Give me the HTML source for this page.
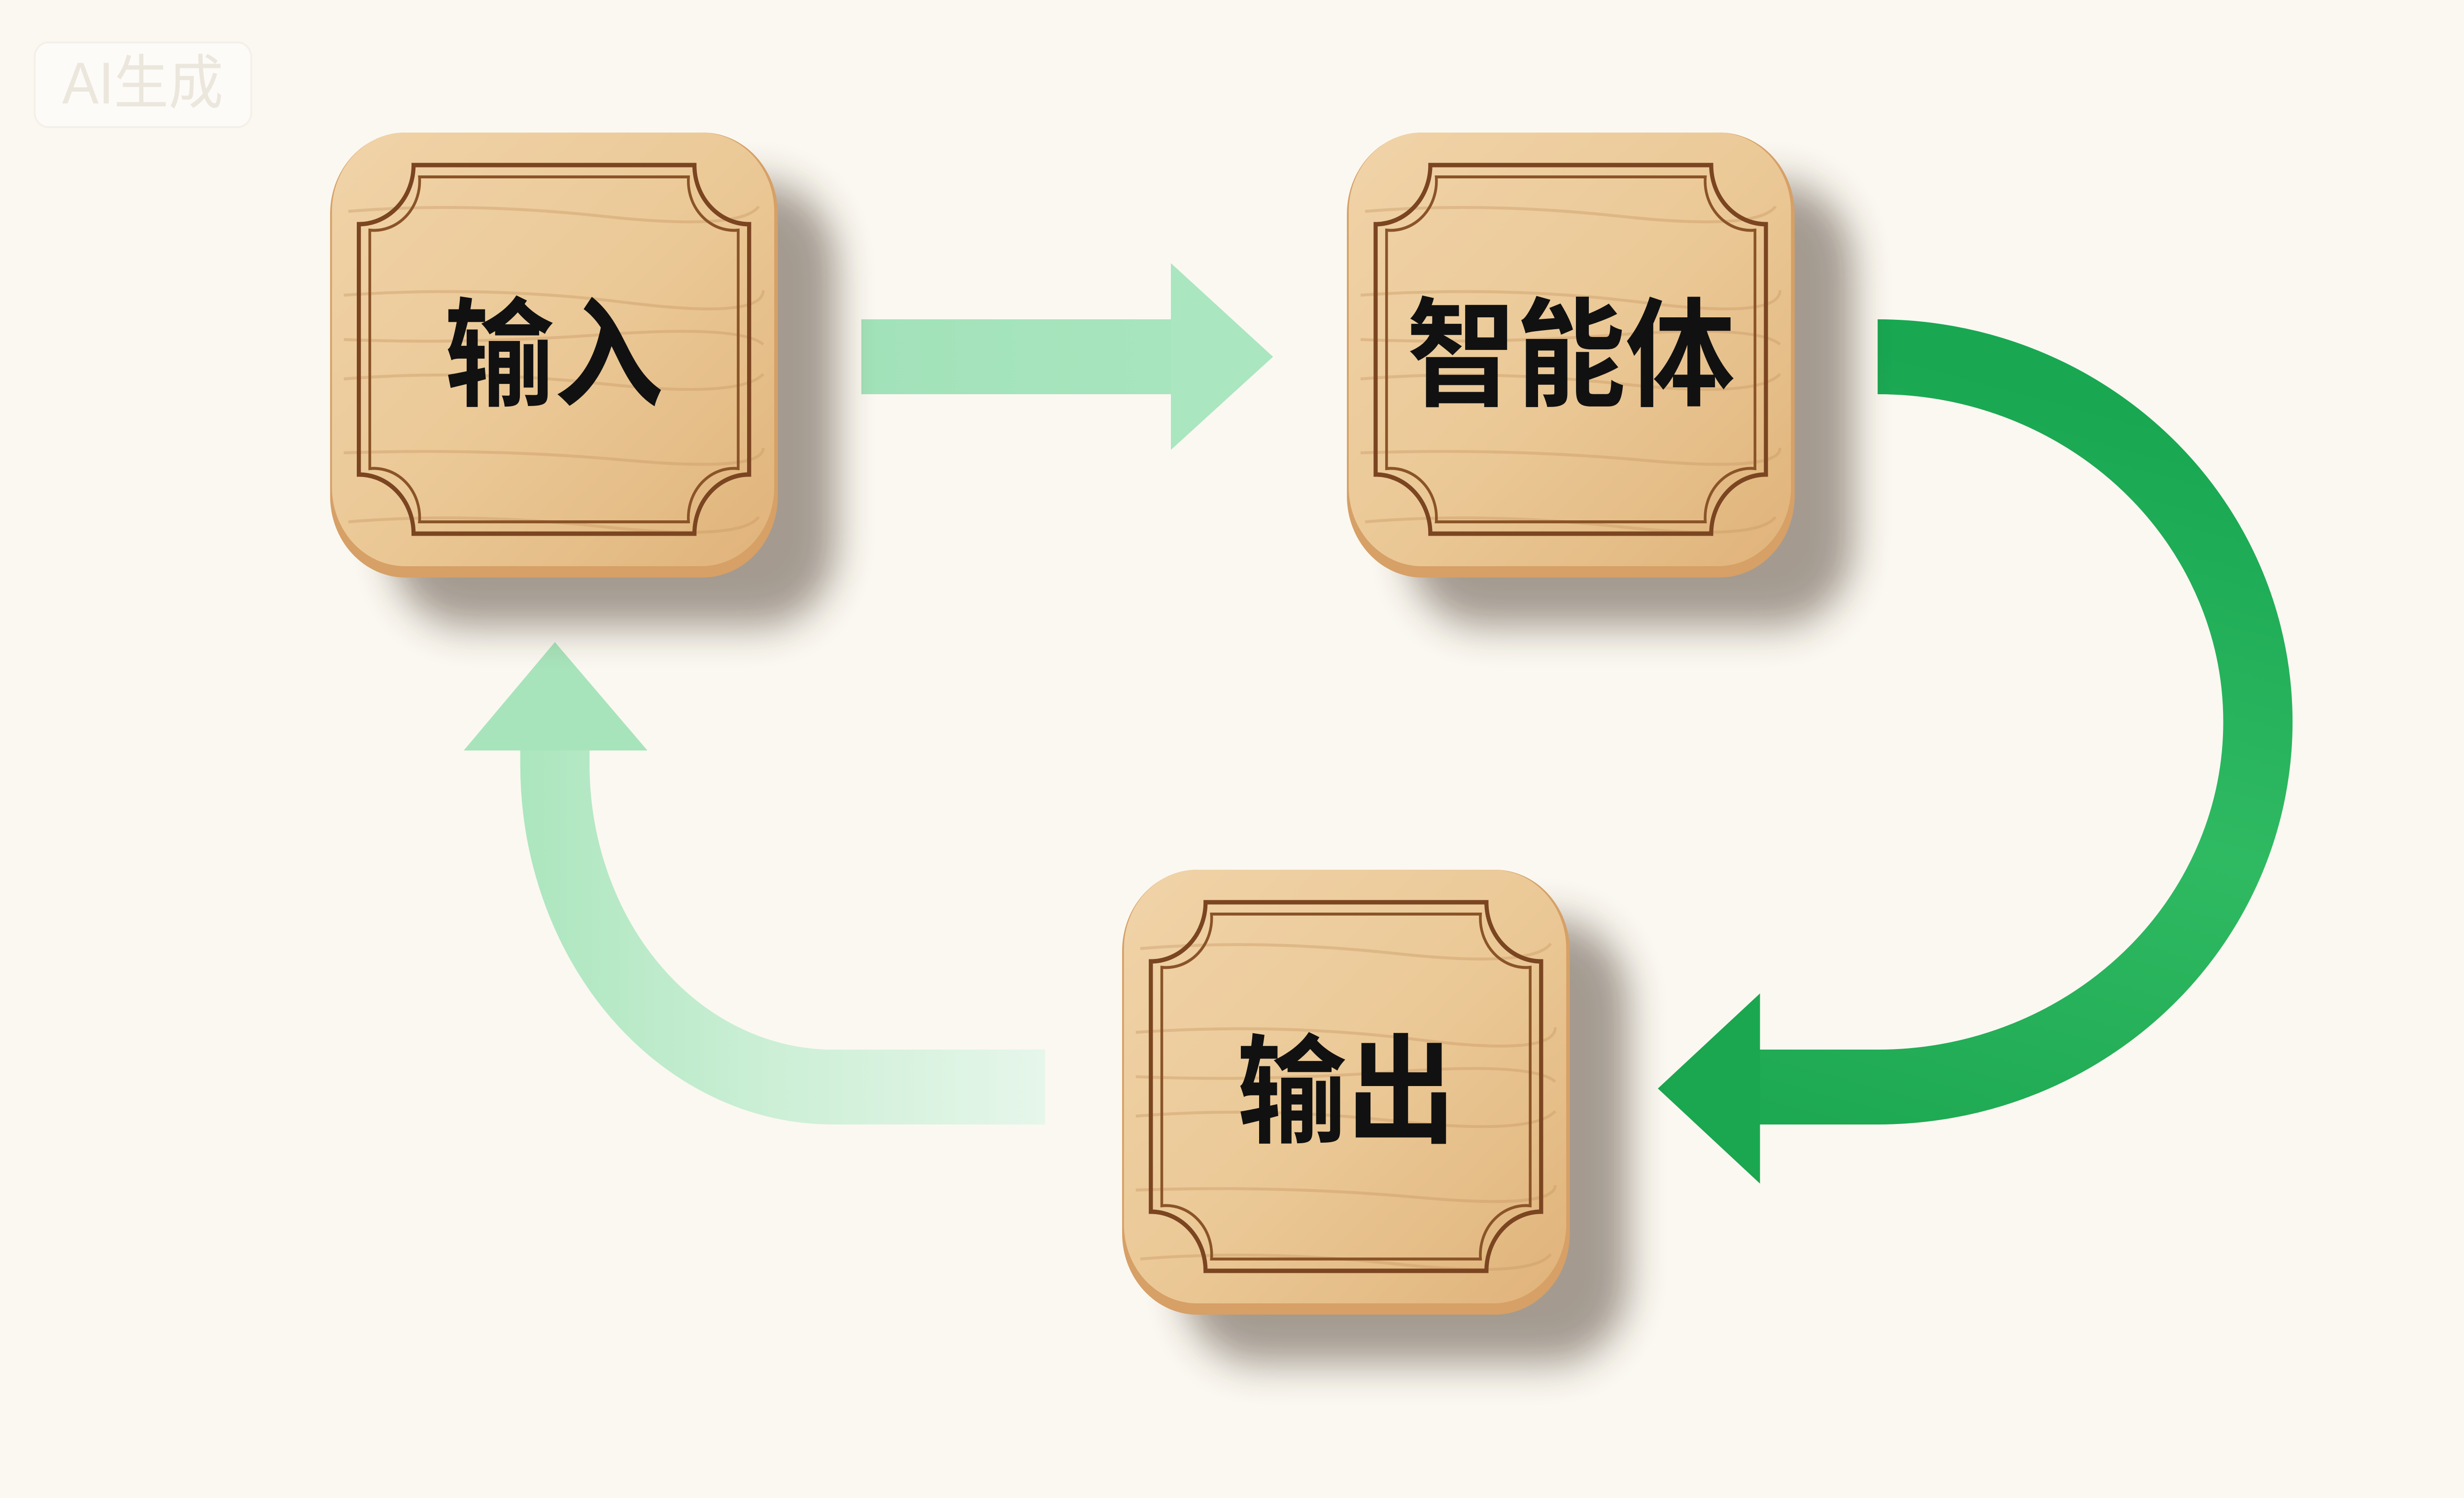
<!DOCTYPE html>
<html><head><meta charset="utf-8"><style>
html,body{margin:0;padding:0;background:#fbf8f1;overflow:hidden;width:100%;height:100%;}
svg{display:block;position:fixed;left:0;top:0;width:100vw;height:100vh;}
</style></head><body>
<svg viewBox="0 0 5404 3040" preserveAspectRatio="none" xmlns="http://www.w3.org/2000/svg">
<defs>
<linearGradient id="wood" x1="0" y1="0" x2="1" y2="1">
<stop offset="0" stop-color="#f0d3a8"/><stop offset="0.5" stop-color="#ebc997"/><stop offset="1" stop-color="#e0b37a"/>
</linearGradient>
<linearGradient id="g1" x1="1889" y1="0" x2="2792" y2="0" gradientUnits="userSpaceOnUse">
<stop offset="0" stop-color="#a2e2b9"/><stop offset="1" stop-color="#a9e6c0"/>
</linearGradient>
<linearGradient id="g2" x1="4100" y1="700" x2="3700" y2="2300" gradientUnits="userSpaceOnUse">
<stop offset="0" stop-color="#19a752"/><stop offset="0.5" stop-color="#2fba62"/><stop offset="1" stop-color="#1ba650"/>
</linearGradient>
<linearGradient id="g3" x1="2292" y1="0" x2="1100" y2="0" gradientUnits="userSpaceOnUse">
<stop offset="0" stop-color="#e6f6ea"/><stop offset="0.5" stop-color="#ccefd6"/><stop offset="1" stop-color="#a9e5bc"/>
</linearGradient>
<filter id="sh" x="-30%" y="-30%" width="170%" height="170%"><feGaussianBlur stdDeviation="40"/></filter>
<g id="box">
<rect x="130" y="100" width="982" height="903" rx="170" fill="#3a2a1a" opacity="0.45" filter="url(#sh)"/>
<rect x="0" y="0" width="982" height="903" rx="165" fill="#d6a066"/>
<rect x="4" y="0" width="970" height="880" rx="160" fill="url(#wood)"/>
<g stroke="#c99864" stroke-width="6" opacity="0.4" fill="none">
<path d="M40 160 Q300 140 600 170 T940 150"/><path d="M30 330 Q350 310 650 345 T950 320"/>
<path d="M30 500 Q300 480 600 510 T950 490"/><path d="M30 650 Q350 640 650 665 T950 640"/>
<path d="M40 790 Q300 770 600 800 T940 780"/><path d="M30 420 Q300 430 600 410 T950 430"/>
</g>
<path d="M183 66 L799 66 A120 120 0 0 0 919 186 L919 694 A120 120 0 0 0 799 814 L183 814 A120 120 0 0 0 63 694 L63 186 A120 120 0 0 0 183 66 Z" fill="none" stroke="#7a4520" stroke-width="9"/>
<path d="M196 90 L786 90 A100 100 0 0 0 895 198 L895 682 A100 100 0 0 0 786 790 L196 790 A100 100 0 0 0 87 682 L87 198 A100 100 0 0 0 196 90 Z" fill="none" stroke="#8a5428" stroke-width="6"/>
</g>
</defs>
<rect x="0" y="0" width="5404" height="3040" fill="#fbf8f1"/>
<rect x="76" y="86" width="475" height="172" rx="30" fill="#ffffff" opacity="0.5" stroke="#eee9e0" stroke-width="4"/>
<text x="313" y="210" font-family="Liberation Sans, Noto Sans CJK SC, sans-serif" font-size="120" fill="#ece7dd" text-anchor="middle">AI生成</text>

<rect x="1889" y="648" width="700" height="152" fill="url(#g1)"/>
<polygon points="2568,534 2792,724 2568,913" fill="#aae6c0"/>

<path d="M4118 724 A834 741 0 0 1 4118 2206 L3850 2206" fill="none" stroke="url(#g2)" stroke-width="152"/>
<polygon points="3860,2016 3636,2209 3860,2402" fill="#1ba650"/>

<path d="M2292 2206 L1827 2206 A610 655 0 0 1 1217 1551 L1217 1510" fill="none" stroke="url(#g3)" stroke-width="152"/>
<polygon points="1017,1523 1217,1303 1420,1523" fill="#a8e4bb"/>

<use href="#box" x="724" y="269"/>
<use href="#box" x="2954" y="269"/>
<use href="#box" x="2461" y="1765"/>

<g font-family="Liberation Sans, Noto Sans CJK SC, sans-serif" font-weight="bold" font-size="240" fill="#111" text-anchor="middle">
<text x="1215" y="805">输入</text>
<text x="3445" y="805">智能体</text>
<text x="2953" y="2300">输出</text>
</g>
</svg>
</body></html>
